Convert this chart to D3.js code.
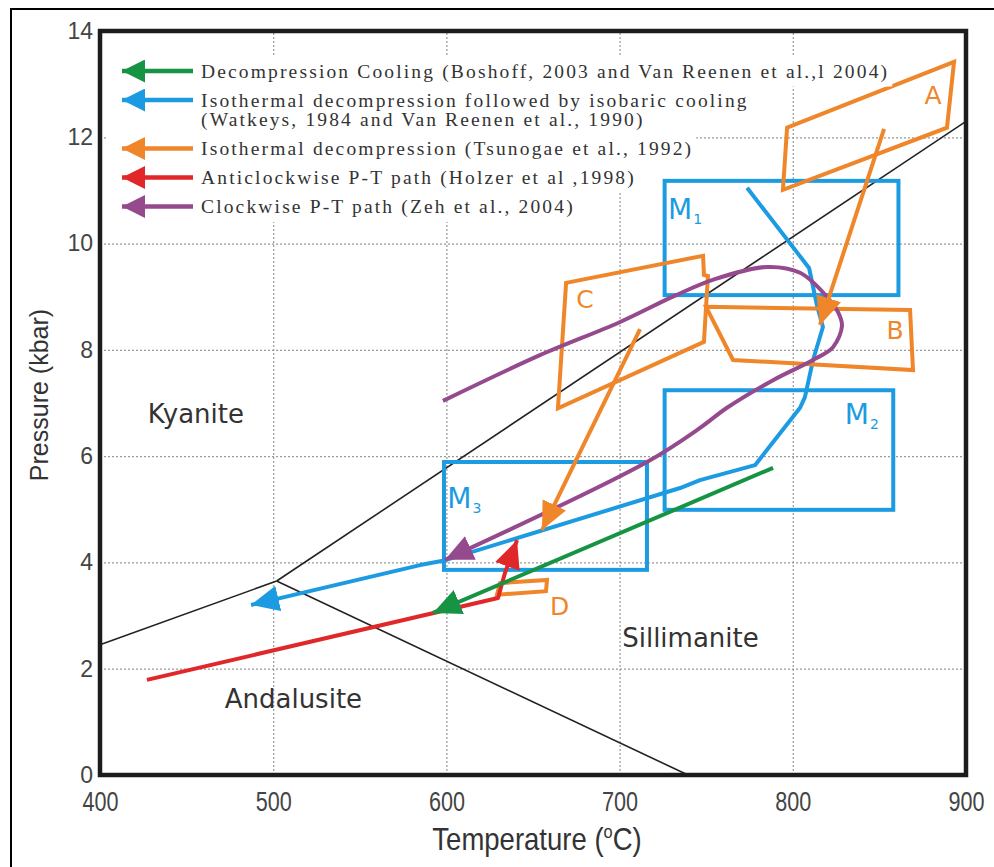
<!DOCTYPE html>
<html>
<head>
<meta charset="utf-8">
<script src="https://cdn.jsdelivr.net/npm/d3@7"></script>
<style>
  body { margin: 0; background: #fff; }
  svg { display: block; }
</style>
</head>
<body>
<div id="chart"></div>
<script>
// ---- axes ----
const tempTicks = [400, 500, 600, 700, 800, 900];
const presTicks = [0, 2, 4, 6, 8, 10, 12, 14];

// ---- Al2SiO5 reaction lines, [T, P] ----
const kyAnd = [[400, 2.45], [502, 3.65]];
const kySil = [[502, 3.65], [900, 12.3]];
const andSil = [[502, 3.65], [739.5, 0]];

const fieldNames = ["Kyanite", "Andalusite", "Sillimanite"];
const fieldAt = [[427.5, 6.62], [472, 1.27], [701.5, 2.4]];

// ---- metamorphic stages M1..M3, [Tmin, Tmax, Pmin, Pmax] ----
const stageSubs = ["1", "2", "3"];
const stageBoxes = [[726, 861, 9.03, 11.18], [726, 858, 4.99, 7.24], [598.6, 715.8, 3.86, 5.89]];
const stageLabelAt = [[728, 10.47], [830, 6.6], [600.5, 5.02]];

// ---- P-T paths ----
const pathGreen = [[788.6, 5.78], [592.3, 3.05]];
const pathBlue = [[773.6, 11.05], [809.4, 9.54], [814, 8.83], [817.4, 8.43], [811.7, 7.81],
  [807, 7.11], [804.2, 6.91], [778.2, 5.83], [746.4, 5.55], [734.9, 5.4], [598, 4.03],
  [584.8, 3.95], [487.2, 3.2]];
const pathRed = [[427.1, 1.79], [629.8, 3.33], [633.8, 3.8], [640.8, 4.42]];
const pathPurple = [[598, 7.04], [654, 7.9], [700, 8.52], [732, 9.02], [755, 9.33],
  [785.1, 9.56], [804.2, 9.45], [819.7, 9.0], [826.1, 8.71], [828.4, 8.45], [823.2, 8.05],
  [811.7, 7.81], [788.6, 7.43], [762, 6.91], [746.4, 6.53], [715.8, 5.89], [599.2, 4.05]];
const orangeArrows = [[[852.7, 12.16], [815.7, 8.47]], [[711.8, 8.39], [655.2, 4.61]]];

// ---- Tsunogae et al. fields A-D ----
const polyNames = ["A", "B", "C", "D"];
const polyA = [[796.7, 12.18], [893.1, 13.42], [889, 12.18], [794.3, 11.01]];
const polyB = [[749.9, 8.81], [867.7, 8.75], [869.4, 7.62], [765.5, 7.81]];
const polyC = [[669.1, 9.26], [748.2, 9.77], [748.7, 9.41], [751, 9.39], [748.7, 8.15], [664.4, 6.9]];
const polyD = [[629.2, 3.39], [631, 3.61], [658.1, 3.67], [657.5, 3.46]];
const polyLabelAt = [[881, 12.62], [859, 8.2], [680, 8.78], [665.4, 3.02]];

// ---- legend ----
const legendText = [
  ["Decompression Cooling (Boshoff, 2003 and Van Reenen et al.,l 2004)"],
  ["Isothermal decompression followed by isobaric cooling", "(Watkeys, 1984 and Van Reenen et al., 1990)"],
  ["Isothermal decompression (Tsunogae et al., 1992)"],
  ["Anticlockwise P-T path (Holzer et al ,1998)"],
  ["Clockwise P-T path (Zeh et al., 2004)"]
];

const green = "#179443", blue = "#1d9be2", orange = "#f0862a", red = "#e0282a", purple = "#964a8e";
const legendColors = [green, blue, orange, red, purple];

const W = 994, H = 867;
const x = d3.scaleLinear().domain([400, 900]).range([100, 966]);
const y = d3.scaleLinear().domain([0, 14]).range([775, 31]);
const line = d3.line().x(d => x(d[0])).y(d => y(d[1]));

const sans = "'Liberation Sans', Arial, sans-serif";

const svg = d3.select("#chart").append("svg")
  .attr("width", W).attr("height", H);

const defs = svg.append("defs");
function marker(id, color, len, hw) {
  defs.append("marker")
    .attr("id", id)
    .attr("viewBox", `0 ${-hw} ${len} ${hw * 2}`)
    .attr("markerWidth", len).attr("markerHeight", hw * 2)
    .attr("markerUnits", "userSpaceOnUse")
    .attr("refX", len).attr("refY", 0)
    .attr("orient", "auto")
    .append("path")
    .attr("d", `M0,${-hw}L${len},0L0,${hw}Z`)
    .attr("fill", color);
}
legendColors.forEach((c, i) => {
  marker("arr" + i, c, 28, 13);
  marker("leg" + i, c, 23, 11.5);
});

// outer frame
svg.append("rect")
  .attr("x", 11).attr("y", 9).attr("width", 1000).attr("height", 900)
  .attr("fill", "none").attr("stroke", "#000").attr("stroke-width", 2);

// grid
svg.append("g")
  .attr("transform", `translate(0,${y(0)})`)
  .call(d3.axisBottom(x).tickValues(tempTicks.slice(1, -1)).tickSize(-(y(0) - y(14))).tickFormat(""))
  .call(g => g.select(".domain").remove())
  .selectAll("line").attr("stroke", "#999").attr("stroke-width", 1.2).attr("stroke-dasharray", "2,2");
svg.append("g")
  .attr("transform", `translate(${x(400)},0)`)
  .call(d3.axisLeft(y).tickValues(presTicks.slice(1, -1)).tickSize(-(x(900) - x(400))).tickFormat(""))
  .call(g => g.select(".domain").remove())
  .selectAll("line").attr("stroke", "#999").attr("stroke-width", 1.2).attr("stroke-dasharray", "2,2");

// reaction lines
[kyAnd, kySil, andSil].forEach(d => {
  svg.append("path").attr("d", line(d))
    .attr("fill", "none").attr("stroke", "#222").attr("stroke-width", 1.6);
});

svg.append("g").selectAll("text")
  .data(fieldNames).enter().append("text")
  .attr("x", (d, i) => x(fieldAt[i][0]))
  .attr("y", (d, i) => y(fieldAt[i][1]))
  .attr("font-family", "'DejaVu Sans', sans-serif")
  .attr("font-size", 26)
  .attr("fill", "#333")
  .text(d => d);

// stage boxes
svg.append("g").selectAll("rect")
  .data(stageBoxes).enter().append("rect")
  .attr("x", d => x(d[0])).attr("y", d => y(d[3]))
  .attr("width", d => x(d[1]) - x(d[0]))
  .attr("height", d => y(d[2]) - y(d[3]))
  .attr("fill", "none").attr("stroke", blue).attr("stroke-width", 4);

const stLab = svg.append("g").selectAll("text")
  .data(stageSubs).enter().append("text")
  .attr("x", (d, i) => x(stageLabelAt[i][0]))
  .attr("y", (d, i) => y(stageLabelAt[i][1]))
  .attr("font-family", "'DejaVu Sans', sans-serif")
  .attr("font-size", 28)
  .attr("fill", blue);
stLab.append("tspan").text("M");
stLab.append("tspan").attr("font-size", 14).attr("dy", 5).attr("dx", 1).text(d => d);

// blue path
svg.append("path").attr("d", line(pathBlue))
  .attr("fill", "none").attr("stroke", blue).attr("stroke-width", 4)
  .attr("stroke-linejoin", "round")
  .attr("marker-end", "url(#arr1)");

// orange polygons
const polyLine = d3.line().x(d => x(d[0])).y(d => y(d[1])).curve(d3.curveLinearClosed);
[polyA, polyB, polyC, polyD].forEach(p => {
  svg.append("path").attr("d", polyLine(p))
    .attr("fill", "none").attr("stroke", orange).attr("stroke-width", 4)
    .attr("stroke-linejoin", "miter");
});
svg.append("g").selectAll("text")
  .data(polyNames).enter().append("text")
  .attr("x", (d, i) => x(polyLabelAt[i][0]))
  .attr("y", (d, i) => y(polyLabelAt[i][1]))
  .attr("text-anchor", "middle")
  .attr("font-family", "'DejaVu Sans', sans-serif")
  .attr("font-size", 25)
  .attr("fill", orange)
  .text(d => d);

// purple clockwise path
svg.append("path")
  .attr("d", d3.line().x(d => x(d[0])).y(d => y(d[1])).curve(d3.curveCatmullRom.alpha(0.5))(pathPurple))
  .attr("fill", "none").attr("stroke", purple).attr("stroke-width", 4)
  .attr("marker-end", "url(#arr4)");

// orange arrows
orangeArrows.forEach(a => {
  svg.append("path").attr("d", line(a))
    .attr("fill", "none").attr("stroke", orange).attr("stroke-width", 4)
    .attr("marker-end", "url(#arr2)");
});

// red and green
svg.append("path").attr("d", line(pathRed))
  .attr("fill", "none").attr("stroke", red).attr("stroke-width", 4)
  .attr("stroke-linejoin", "round")
  .attr("marker-end", "url(#arr3)");
svg.append("path").attr("d", line(pathGreen))
  .attr("fill", "none").attr("stroke", green).attr("stroke-width", 4)
  .attr("marker-end", "url(#arr0)");

// legend: white backing behind every text line, then text, then arrows
const legBg = svg.append("g");
const leg = svg.append("g");
let base = 77.5;
legendText.forEach((lines, i) => {
  const ay = base - 6.5;
  lines.forEach((t, j) => {
    const by = base + j * 19.5;
    const tx = leg.append("text")
      .attr("x", 201).attr("y", by)
      .attr("font-family", "'Liberation Serif', 'Times New Roman', serif")
      .attr("font-size", 19.5)
      .attr("letter-spacing", 2.15)
      .attr("fill", "#333")
      .text(t);
    const bb = tx.node().getBBox();
    legBg.append("rect").attr("fill", "#fff")
      .attr("x", 108).attr("y", by - 22)
      .attr("width", bb.x + bb.width - 108 + 3).attr("height", 31);
  });
  leg.append("line")
    .attr("x1", 193).attr("x2", 122).attr("y1", ay).attr("y2", ay)
    .attr("stroke", legendColors[i]).attr("stroke-width", 4.5)
    .attr("marker-end", `url(#leg${i})`);
  base += 29 + 19.5 * (lines.length - 1);
});

// axes
svg.append("g")
  .attr("transform", `translate(${x(400)},0)`)
  .call(d3.axisLeft(y).tickValues(presTicks).tickSize(0).tickPadding(7))
  .call(g => g.select(".domain").remove())
  .selectAll("text")
  .attr("font-family", sans)
  .attr("font-size", 23).attr("fill", "#444");
svg.append("g")
  .attr("transform", `translate(0,${y(0)})`)
  .call(d3.axisBottom(x).tickValues(tempTicks).tickSize(0).tickPadding(17))
  .call(g => g.select(".domain").remove())
  .selectAll("text")
  .attr("font-family", sans)
  .attr("font-size", 27).attr("fill", "#444")
  .attr("transform", "scale(0.8,1)");

const xt = svg.append("text")
  .attr("transform", "translate(537,850) scale(0.86,1)")
  .attr("text-anchor", "middle")
  .attr("font-family", sans)
  .attr("font-size", 32).attr("fill", "#333");
xt.append("tspan").text("Temperature (");
xt.append("tspan").attr("font-size", 19).attr("dy", -12).text("o");
xt.append("tspan").attr("dy", 12).text("C)");

svg.append("text")
  .attr("transform", `translate(48,${(y(0) + y(14)) / 2 - 8}) rotate(-90)`)
  .attr("text-anchor", "middle")
  .attr("font-family", sans)
  .attr("font-size", 25).attr("fill", "#333")
  .text("Pressure (kbar)");

// plot frame
svg.append("rect")
  .attr("x", x(400)).attr("y", y(14))
  .attr("width", x(900) - x(400)).attr("height", y(0) - y(14))
  .attr("fill", "none").attr("stroke", "#1c1c1c").attr("stroke-width", 4.5);
</script>
</body>
</html>
